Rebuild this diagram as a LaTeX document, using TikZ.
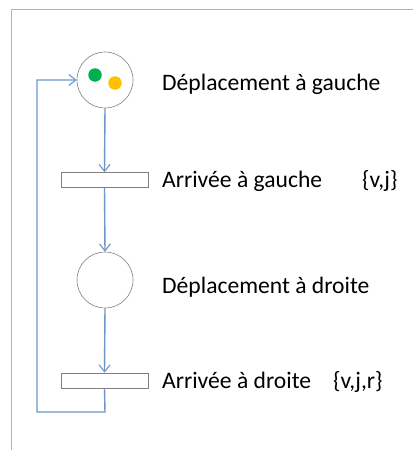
\documentclass[tikz,border=0pt]{standalone}
\usepackage{fontspec}
\setmainfont{Carlito}
\usetikzlibrary{arrows.meta}
\definecolor{flow}{HTML}{6E96CC}
\definecolor{framec}{HTML}{A7B5CF}
\definecolor{tokg}{HTML}{00B050}
\definecolor{toky}{HTML}{FFC000}
\tikzset{
  place/.style={circle,draw=black!50,line width=0.6pt,minimum size=56pt,inner sep=0pt,fill=white},
  trans/.style={rectangle,draw=black!50,line width=0.6pt,minimum width=87pt,minimum height=15pt,inner sep=0pt,fill=white},
  lbl/.style={anchor=base west,inner sep=0pt,font=\fontsize{23.6}{28}\selectfont},
  flowline/.style={draw=flow,line width=1.4pt},
  flowarrow/.style={flowline,-{Straight Barb[length=7pt,width=11pt,line width=1.1pt]}},
  token/.style={circle,inner sep=0pt,minimum size=13.5pt}
}
\begin{document}
\begin{tikzpicture}[x=1pt,y=-1pt]
\useasboundingbox (0,0) rectangle (413,450);
\fill[white] (0,0) rectangle (413,450);
\draw[framec,line width=1pt] (11,450) -- (11,9.5) -- (413,9.5);
\node[place] (p1) at (105,80) {};
\node[token,fill=tokg] (tg) at (95,75) {};
\node[token,fill=toky] (ty) at (115,83) {};
\node[trans] (t1) at (104.5,180) {};
\node[place] (p2) at (105,280) {};
\node[trans] (t2) at (104.5,380.5) {};
\node[lbl] (l1) at (162,90) {Déplacement à gauche};
\node[lbl] (l2) at (162,187) {Arrivée à gauche};
\node[lbl] (l3) at (362,187) {\{v,j\}};
\node[lbl] (l4) at (162,293) {Déplacement à droite};
\node[lbl] (l5) at (162,388) {Arrivée à droite};
\node[lbl] (l6) at (333,388) {\{v,j,r\}};
\coordinate (c1) at (105,412);
\coordinate (c2) at (37,412);
\coordinate (c3) at (37,80);
\draw[flowarrow] (p1.south) -- (t1.north);
\draw[flowarrow] (t1.south) -- (p2.north);
\draw[flowarrow] (p2.south) -- (t2.north);
\draw[flowarrow] (t2.south) -- (c1) -- (c2) -- (c3) -- (p1.west);
\end{tikzpicture}
\end{document}
